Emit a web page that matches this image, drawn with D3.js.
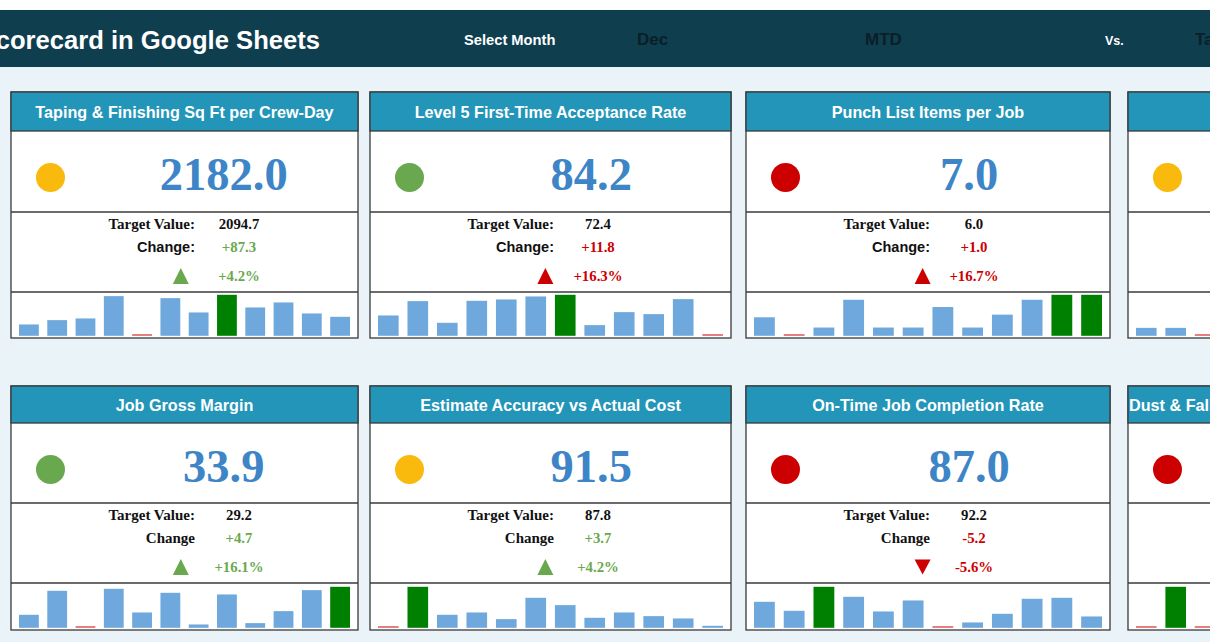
<!DOCTYPE html>
<html>
<head>
<meta charset="utf-8">
<script src="https://cdn.jsdelivr.net/npm/d3@7/dist/d3.min.js"></script>
<style>
  html, body { margin: 0; padding: 0; background: #eaf3f8; overflow: hidden; }
  svg { display: block; }
</style>
</head>
<body>
<svg id="chart" width="1210" height="642"></svg>
<script>
// ---------- DATA ----------
const headerTitle = "Scorecard in Google Sheets";
const selectLabel = "Select Month";
const selectedMonth = "Dec";
const periodLabel = "MTD";
const vsLabel = "Vs.";
const compareLabel = "Target";

const titles = [
  "Taping & Finishing Sq Ft per Crew-Day",
  "Level 5 First-Time Acceptance Rate",
  "Punch List Items per Job",
  "",
  "Job Gross Margin",
  "Estimate Accuracy vs Actual Cost",
  "On-Time Job Completion Rate",
  "Dust & Fall Protection Compliance Rate"
];
const actuals = [2182.0, 84.2, 7.0, null, 33.9, 91.5, 87.0, null];
const targets = [2094.7, 72.4, 6.0, null, 29.2, 87.8, 92.2, null];
const changes = [87.3, 11.8, 1.0, null, 4.7, 3.7, -5.2, null];
const changePct = [4.2, 16.3, 16.7, null, 16.1, 4.2, -5.6, null];
const changeGood = [true, false, false, null, true, true, false, null];
const statuses = ["amber", "green", "red", "amber", "green", "amber", "red", "red"];
const changeLabels = ["Change:", "Change:", "Change:", "Change:", "Change", "Change", "Change", "Change"];
const months = ["Jan","Feb","Mar","Apr","May","Jun","Jul","Aug","Sep","Oct","Nov","Dec"];

const trend1 = [34, 47, 52, 119, 0, 113, 70, 123, 85, 100, 67, 57];
const trend2 = [61, 104, 39, 105, 109, 118, 123, 32, 71, 65, 110, 0];
const trend3 = [56, 0, 25, 109, 25, 25, 87, 25, 64, 109, 124, 124];
const trend4 = [24, 24, 0, 60, 88, 124, 45, 70, 35, 52, 96, 40];
const trend5 = [39, 111, 0, 117, 46, 105, 10, 100, 14, 50, 113, 123];
const trend6 = [0, 123, 39, 46, 26, 90, 68, 30, 46, 35, 28, 6];
const trend7 = [78, 51, 123, 93, 49, 82, 0, 16, 42, 87, 90, 34];
const trend8 = [0, 123, 0, 45, 70, 30, 88, 52, 20, 64, 98, 40];
const trends = [trend1, trend2, trend3, trend4, trend5, trend6, trend7, trend8];

// ---------- STYLE / LAYOUT ----------
const C = {
  bg: "#eaf3f8", header: "#0f3e4f", band: "#2295b9", border: "#3a3a3a",
  value: "#3d85c6", good: "#6aa84f", bad: "#cc0000",
  bar: "#6fa8dc", barMax: "#008000", barMin: "#e06060",
  amber: "#f9b90d", green: "#6aa84f", red: "#cc0000"
};
const colX = [11, 370, 746, 1128];
const colW = [347, 361, 364, 360];
const rows = [
  { top: 92, band: 131, sep1: 212, sep2: 292, bottom: 338, titleY: 117.5 },
  { top: 386, band: 423, sep1: 503, sep2: 583, bottom: 630, titleY: 410.5 }
];

const svg = d3.select("#chart");
const W = 1210, H = 642;
const SANS = "Liberation Sans, Arial, sans-serif";
const SERIF = "Liberation Serif, 'Times New Roman', serif";

svg.append("rect").attr("width", W).attr("height", H).attr("fill", C.bg);
svg.append("rect").attr("width", W).attr("height", 10).attr("fill", "#ffffff");

// ---------- HEADER ----------
const hdr = svg.append("g");
hdr.append("rect").attr("x", 0).attr("y", 10).attr("width", W).attr("height", 57).attr("fill", C.header);
hdr.append("text").attr("x", 320).attr("y", 48.5).attr("text-anchor", "end")
  .attr("font-family", SANS).attr("font-weight", "bold")
  .attr("font-size", 25.6).attr("fill", "#ffffff").text(headerTitle);
hdr.append("text").attr("x", 464).attr("y", 45).attr("font-family", SANS)
  .attr("font-weight", "bold").attr("font-size", 14.7).attr("fill", "#ffffff").text(selectLabel);
hdr.append("text").attr("x", 637).attr("y", 45).attr("font-family", SANS)
  .attr("font-weight", "bold").attr("font-size", 17).attr("fill", "#0a1f27").text(selectedMonth);
hdr.append("text").attr("x", 865).attr("y", 45).attr("font-family", SANS)
  .attr("font-weight", "bold").attr("font-size", 17).attr("fill", "#0a1f27").text(periodLabel);
hdr.append("text").attr("x", 1105).attr("y", 44.5).attr("font-family", SANS)
  .attr("font-weight", "bold").attr("font-size", 12.5).attr("fill", "#ffffff").text(vsLabel);
hdr.append("text").attr("x", 1195).attr("y", 45).attr("font-family", SANS)
  .attr("font-weight", "bold").attr("font-size", 17).attr("fill", "#0a1f27").text(compareLabel);

// ---------- CARDS ----------
const loc = d3.formatLocale({ decimal: ".", thousands: ",", grouping: [3], currency: ["$", ""], minus: "-" });
const fmt1 = loc.format(".1f");
const fmtSigned = loc.format("+.1f");

titles.forEach((title, i) => {
  const r = rows[Math.floor(i / 4)];
  const col = i % 4;
  const x0 = colX[col], w = colW[col];
  const g = svg.append("g");

  // card body
  g.append("rect").attr("x", x0).attr("y", r.top).attr("width", w).attr("height", r.bottom - r.top)
    .attr("fill", "#ffffff").attr("stroke", C.border).attr("stroke-width", 1.3);
  g.append("rect").attr("x", x0).attr("y", r.top).attr("width", w).attr("height", r.band - r.top)
    .attr("fill", C.band).attr("stroke", C.border).attr("stroke-width", 1.3);
  [r.sep1, r.sep2].forEach(yy => {
    g.append("line").attr("x1", x0).attr("x2", x0 + w).attr("y1", yy).attr("y2", yy)
      .attr("stroke", C.border).attr("stroke-width", 1.3);
  });

  // title (the last column is cut by the window; its long title overflows from the left edge)
  const t = g.append("text").attr("y", r.titleY)
    .attr("font-family", SANS).attr("font-weight", "bold")
    .attr("font-size", 16.2).attr("fill", "#ffffff").text(title);
  const tw = t.node().getComputedTextLength();
  t.attr("x", col === 3 ? x0 + 1 : x0 + w / 2 - tw / 2);

  // status circle
  g.append("circle").attr("cx", x0 + 39.5).attr("cy", r.band + 46.5).attr("r", 14.5)
    .attr("fill", C[statuses[i]]);

  if (actuals[i] !== null) {
    g.append("text").attr("x", x0 + w * 0.613).attr("y", r.band + 58.5).attr("text-anchor", "middle")
      .attr("font-family", SERIF).attr("font-weight", "bold")
      .attr("font-size", 46.5).attr("fill", C.value).text(fmt1(actuals[i]));

    const lx = x0 + 184, vx = x0 + 228;
    const tc = changeGood[i] ? C.good : C.bad;
    const isRow1 = i < 4;
    g.append("text").attr("x", lx).attr("y", r.sep1 + 16.5).attr("text-anchor", "end")
      .attr("font-family", SERIF).attr("font-weight", "bold").attr("font-size", 15).attr("fill", "#111")
      .text("Target Value:");
    g.append("text").attr("x", vx).attr("y", r.sep1 + 16.5).attr("text-anchor", "middle")
      .attr("font-family", SERIF).attr("font-weight", "bold").attr("font-size", 14.8).attr("fill", "#111")
      .text(fmt1(targets[i]));
    g.append("text").attr("x", lx).attr("y", r.sep1 + 40).attr("text-anchor", "end")
      .attr("font-family", isRow1 ? SANS : SERIF).attr("font-weight", "bold")
      .attr("font-size", isRow1 ? 14.5 : 15).attr("fill", "#111").text(changeLabels[i]);
    g.append("text").attr("x", vx).attr("y", r.sep1 + 40).attr("text-anchor", "middle")
      .attr("font-family", SERIF).attr("font-weight", "bold").attr("font-size", 14.8).attr("fill", tc)
      .text(fmtSigned(changes[i]));
    g.append("text").attr("x", vx).attr("y", r.sep1 + 68.5).attr("text-anchor", "middle")
      .attr("font-family", SERIF).attr("font-weight", "bold").attr("font-size", 14.8).attr("fill", tc)
      .text(fmtSigned(changePct[i]) + "%");

    // arrow
    const ax = x0 + 0.4 * w + 31, ay = r.sep1 + 64;
    const up = changePct[i] >= 0;
    const pts = up
      ? [[ax - 8, ay + 8], [ax + 8, ay + 8], [ax, ay - 8]]
      : [[ax - 8, ay - 7.5], [ax + 8, ay - 7.5], [ax, ay + 7.5]];
    g.append("path").attr("d", d3.line()(pts) + "Z").attr("fill", tc);
  }

  // sparkline
  const data = trends[i];
  const xs = d3.scaleBand().domain(months).range([x0 + 8, x0 + w - 8]).paddingInner(0.3).paddingOuter(0);
  const base = r.bottom - 2.2;
  const ys = d3.scaleLinear().domain([0, d3.max(data)]).range([base, base - 41]);
  const mx = d3.max(data), mn = d3.min(data);
  g.append("g").selectAll("rect").data(data).join("rect")
    .attr("x", (d, k) => xs(months[k]))
    .attr("width", xs.bandwidth())
    .attr("y", d => d === mn ? base - 1.6 : ys(d))
    .attr("height", d => d === mn ? 1.6 : base - ys(d))
    .attr("fill", d => d === mx ? C.barMax : (d === mn ? C.barMin : C.bar));
});
</script>
</body>
</html>
